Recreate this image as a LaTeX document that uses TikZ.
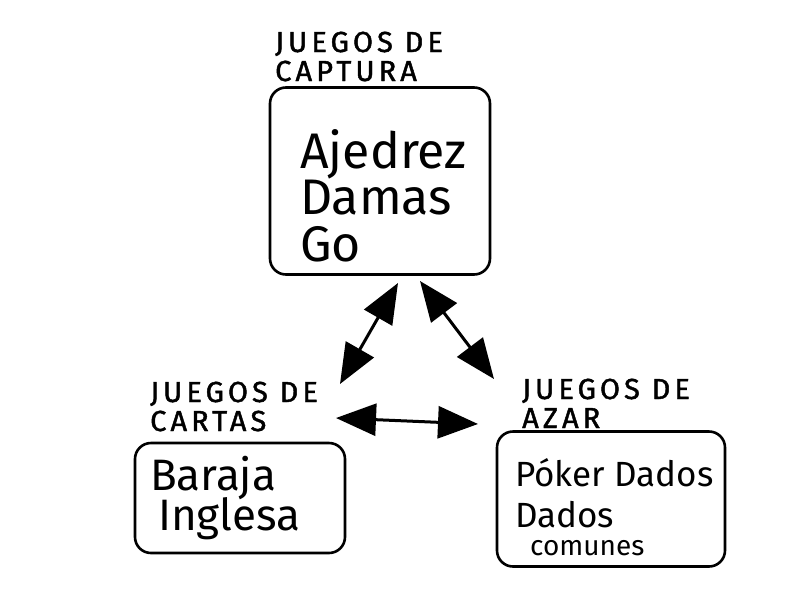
\documentclass[tikz,border=0pt]{standalone}
\usepackage{fontspec}
\setmainfont{Fira Sans}
\usetikzlibrary{arrows.meta}
\begin{document}
\begin{tikzpicture}[x=1pt,y=-1pt,
  box/.style={draw, line width=2.6pt, rounded corners=16pt, inner sep=0pt},
  title/.style={anchor=base west, inner sep=0pt, font=\fontsize{29}{29}\selectfont\addfontfeature{LetterSpace=14,FakeBold=1.5}},
  big/.style={anchor=base west, inner sep=0pt, font=\fontsize{50}{50}\selectfont},
  mid/.style={anchor=base west, inner sep=0pt, font=\fontsize{35}{35}\selectfont},
  bar/.style={anchor=base west, inner sep=0pt, font=\fontsize{44}{44}\selectfont},
  small/.style={anchor=base west, inner sep=0pt, font=\fontsize{28}{28}\selectfont},
  dbl/.style={{Triangle[length=40pt,width=32pt]}-{Triangle[length=40pt,width=32pt]}, line width=3pt}]
\useasboundingbox (0,0) rectangle (800,600);
% boxes
\node[box, minimum width=220pt, minimum height=187pt] (capt) at (380,181) {};
\node[box, minimum width=210pt, minimum height=110pt] (cart) at (240,498) {};
\node[box, minimum width=228pt, minimum height=135pt] (azar) at (611,499) {};
% titles
\node[title] (t1a) at (275,52) {JUEGOS DE};
\node[title] (t1b) at (275,81) {CAPTURA};
\node[title] (t2a) at (150,402) {JUEGOS DE};
\node[title] (t2b) at (150,431) {CARTAS};
\node[title] (t3a) at (522,399) {JUEGOS DE};
\node[title] (t3b) at (522,428) {AZAR};
% contents
\node[big] (c1) at (300,168) {Ajedrez};
\node[big] (c2) at (300,214) {Damas};
\node[big] (c3) at (300,261) {Go};
\node[bar] (d1) at (150,490) {Baraja};
\node[bar] (d2) at (158,530) {Inglesa};
\node[mid] (e1) at (515,486) {Póker Dados};
\node[mid] (e2) at (515,527) {Dados};
\node[small] (e3) at (530,555) {comunes};
% arrows
\coordinate (a1u) at (398,283);
\coordinate (a1d) at (340,384);
\coordinate (a2u) at (420,281);
\coordinate (a2d) at (494,379);
\coordinate (a3l) at (336,418);
\coordinate (a3r) at (478,424);
\draw[dbl] (a1u) -- (a1d);
\draw[dbl] (a2u) -- (a2d);
\draw[dbl] (a3l) -- (a3r);
\end{tikzpicture}
\end{document}
